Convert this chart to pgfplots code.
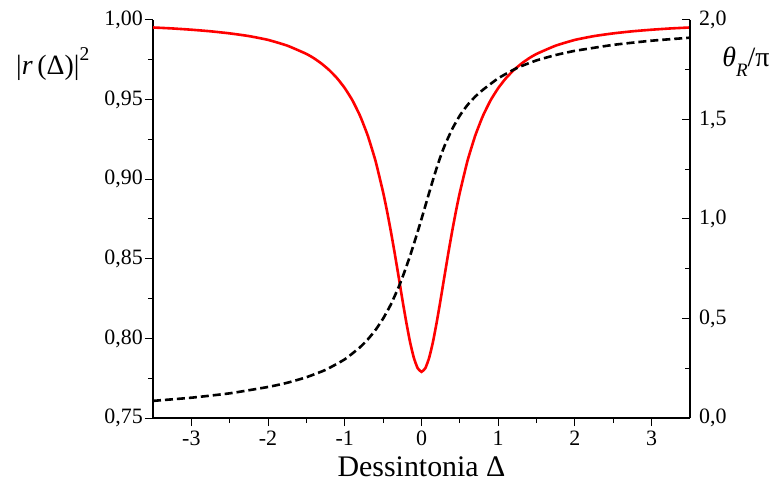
\documentclass[border=0pt]{standalone}
\usepackage{fontspec}
\setmainfont{Liberation Serif}
\usepackage{pgfplots}
\pgfplotsset{compat=1.18}

\pgfplotstableread{
x r
-3.5 0.9953
-3.25 0.9947
-3 0.9939
-2.75 0.9929
-2.5 0.9916
-2.25 0.9899
-2 0.9875
-1.75 0.9839
-1.5 0.9787
-1.4 0.9759
-1.3 0.9725
-1.2 0.9684
-1.1 0.9634
-1 0.9572
-0.9 0.9495
-0.8 0.9397
-0.7 0.9273
-0.6 0.9116
-0.5 0.8917
-0.45 0.8801
-0.4 0.8674
-0.35 0.8537
-0.3 0.8393
-0.25 0.8246
-0.2 0.8106
-0.15 0.7979
-0.1 0.7878
-0.05 0.7813
0 0.7790
0.05 0.7813
0.1 0.7878
0.15 0.7979
0.2 0.8106
0.25 0.8246
0.3 0.8393
0.35 0.8537
0.4 0.8674
0.45 0.8801
0.5 0.8917
0.6 0.9116
0.7 0.9273
0.8 0.9397
0.9 0.9495
1 0.9572
1.1 0.9634
1.2 0.9684
1.3 0.9725
1.4 0.9759
1.5 0.9787
1.75 0.9839
2 0.9875
2.25 0.9899
2.5 0.9916
2.75 0.9929
3 0.9939
3.25 0.9947
3.5 0.9953
}\reflectance

\pgfplotstableread{
x th
-3.5 0.086
-3 0.102
-2.5 0.124
-2 0.156
-1.75 0.177
-1.5 0.205
-1.25 0.242
-1 0.295
-0.8 0.356
-0.7 0.395
-0.6 0.442
-0.5 0.500
-0.4 0.570
-0.3 0.656
-0.25 0.705
-0.2 0.758
-0.15 0.814
-0.1 0.874
-0.05 0.936
0 1.000
0.05 1.066
0.1 1.132
0.15 1.197
0.2 1.259
0.25 1.316
0.3 1.367
0.4 1.452
0.5 1.520
0.6 1.573
0.7 1.615
0.8 1.649
1 1.707
1.25 1.760
1.5 1.797
1.75 1.824
2 1.845
2.5 1.875
3 1.896
3.5 1.911
}\phase

\begin{document}
\begin{tikzpicture}
\path[use as bounding box] (-153bp,-73bp) rectangle (620bp,418bp);
\pgfplotsset{
  every axis/.append style={
    at={(0,0)}, anchor=south west,
    scale only axis, width=537bp, height=398bp,
    xmin=-3.5, xmax=3.5,
    axis line style={line width=1.1bp, black},
    every tick/.style={black, line width=1bp},
    major tick length=8bp, minor tick length=5bp,
    tick label style={font=\fontsize{22}{25}\selectfont, inner sep=2bp},
    /pgf/number format/assume math mode=true,
  }
}
\begin{axis}[
  axis x line*=bottom, axis y line*=left,
  tick align=outside,
  ymin=0.75, ymax=1.0,
  ytick={0.75,0.80,...,1.001},
  minor y tick num=1,
  xtick={-3,-2,-1,0,1,2,3},
  minor x tick num=1,
  yticklabel style={/pgf/number format/.cd, fixed, fixed zerofill, precision=2, use comma},
  xticklabel style={yshift=-3bp},
  xlabel={Dessintonia Δ},
  xlabel style={at={(axis description cs:0.5,0)}, anchor=center, yshift=-49bp,
    font=\fontsize{30}{33}\selectfont},
  every axis y label/.style={at={(axis description cs:0,1)}, anchor=center,
    xshift=-100bp, yshift=-44bp, font=\fontsize{28}{32}\selectfont},
  ylabel={|\textit{r}\,(Δ)|\raisebox{0.2em}{\textsuperscript{2}}},
]
\addplot[red, line width=2.6bp, smooth, tension=0.3] table[x=x, y=r] {\reflectance};
\end{axis}
\begin{axis}[
  axis x line=none, axis y line*=right,
  tick align=inside,
  ymin=0, ymax=2,
  ytick={0,0.5,...,2.001},
  minor y tick num=1,
  yticklabel style={/pgf/number format/.cd, fixed, fixed zerofill, precision=1, use comma, /tikz/.cd, xshift=7bp},
  every axis y label/.style={at={(axis description cs:1,1)}, anchor=center,
    xshift=56bp, yshift=-42bp, font=\fontsize{28}{32}\selectfont},
  ylabel={\textit{θ}\raisebox{-0.35em}{\fontsize{19}{20}\selectfont\textit{R}}/π},
]
\addplot[black, line width=2.6bp, dash pattern=on 8bp off 4bp, smooth, tension=0.3] table[x=x, y=th] {\phase};
\end{axis}
\end{tikzpicture}
\end{document}
